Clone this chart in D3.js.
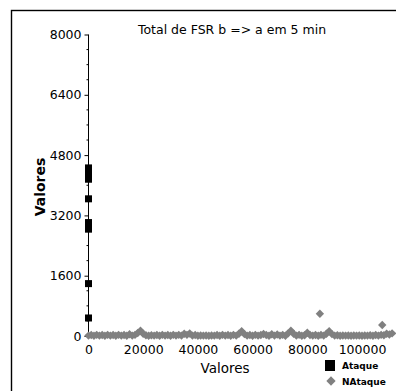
<!DOCTYPE html>
<html>
<head>
<meta charset="utf-8">
<script src="https://cdn.jsdelivr.net/npm/d3@7"></script>
<style>
  html, body { margin: 0; padding: 0; background: #fff; }
  svg { display: block; font-family: "DejaVu Sans", sans-serif; }
</style>
</head>
<body>
<svg id="chart" width="396" height="391"></svg>
<script>
// Series: attack samples (Ataque) and normal samples (NAtaque)
const ataqueX = [0, 0, 0, 0, 0, 0, 0, 0, 0, 0, 0];
const ataqueY = [4460, 4400, 4330, 4250, 4160, 3640, 3010, 2920, 2835, 1390, 478];

const nataqueX = [
  0, 1000, 2000, 3000, 4000, 5000, 6000, 7000, 8000, 9000,
  10000, 11000, 12000, 13000, 14000, 15000, 16000, 17000, 18000, 19000,
  20000, 21000, 22000, 23000, 24000, 25000, 26000, 27000, 28000, 29000,
  30000, 31000, 32000, 33000, 34000, 35000, 36000, 37000, 38000, 39000,
  40000, 41000, 42000, 43000, 44000, 45000, 46000, 47000, 48000, 49000,
  50000, 51000, 52000, 53000, 54000, 55000, 56000, 57000, 58000, 59000,
  60000, 61000, 62000, 63000, 64000, 65000, 66000, 67000, 68000, 69000,
  70000, 71000, 72000, 73000, 74000, 75000, 76000, 77000, 78000, 79000,
  80000, 81000, 82000, 83000, 84000, 85000, 86000, 87000, 88000, 89000,
  90000, 91000, 92000, 93000, 94000, 95000, 96000, 97000, 98000, 99000,
  100000, 101000, 102000, 103000, 104000, 105000, 106000, 107000, 108000, 109000,
  110000, 111000, 84600, 107400
];
const nataqueY = [
  10, 25, 5, 30, 10, 25, 5, 30, 10, 25,
  5, 30, 10, 25, 5, 45, 10, 30, 80, 140,
  60, 20, 5, 20, 10, 25, 5, 30, 10, 25,
  5, 30, 10, 30, 10, 60, 30, 65, 10, 25,
  5, 15, 10, 15, 5, 15, 10, 25, 5, 30,
  10, 25, 5, 30, 10, 60, 125, 50, 10, 25,
  5, 30, 10, 25, 55, 25, 5, 45, 10, 40,
  10, 30, 5, 70, 140, 60, 10, 30, 5, 20,
  85, 25, 10, 25, 5, 30, 10, 60, 125, 50,
  10, 20, 5, 15, 10, 15, 5, 15, 10, 15,
  5, 15, 10, 20, 5, 25, 10, 30, 20, 60,
  40, 70, 590, 290
];

const yTicks = [0, 1600, 3200, 4800, 6400, 8000];
const xTicks = [0, 20000, 40000, 60000, 80000, 100000];
const titleText = "Total de FSR b => a em 5 min";
const axisTitle = "Valores";
const legendNames = ["Ataque", "NAtaque"];

const svg = d3.select("#chart");

const x = d3.scaleLinear().domain([0, 100000]).range([88.5, 362]);
const y = d3.scaleLinear().domain([0, 8000]).range([336, 34.5]);

// outer frame
svg.append("rect")
  .attr("x", 11.5).attr("y", 10.5)
  .attr("width", 420).attr("height", 420)
  .attr("fill", "none").attr("stroke", "#000").attr("stroke-width", 1.4);

// title
svg.append("text")
  .attr("x", 232).attr("y", 34)
  .attr("text-anchor", "middle")
  .attr("font-size", 12.5)
  .text(titleText);

// y axis with major ticks
const yAxis = d3.axisLeft(y).tickValues(yTicks).tickSize(4).tickPadding(3)
  .tickFormat(d3.format("d"));
const gy = svg.append("g").attr("transform", `translate(${x(0)},0)`).call(yAxis);
gy.select(".domain").attr("d", `M0,${y(8000)}V${y(0)}`);
gy.selectAll("text").attr("font-size", 12.5).attr("font-family", "DejaVu Sans");

// minor ticks every 400
const minor = d3.range(400, 8000, 400).filter(v => v % 1600 !== 0);
svg.append("g").selectAll("line").data(minor).join("line")
  .attr("x1", x(0) - 2).attr("x2", x(0))
  .attr("y1", d => y(d)).attr("y2", d => y(d))
  .attr("stroke", "#000");

// x tick labels
const xAxis = d3.axisBottom(x).tickValues(xTicks).tickSize(0).tickPadding(9)
  .tickFormat(d3.format("d"));
const gx = svg.append("g").attr("transform", `translate(0,${y(0)})`).call(xAxis);
gx.select(".domain").remove();
gx.selectAll("text").attr("font-size", 12.5).attr("font-family", "DejaVu Sans");

// axis titles
svg.append("text")
  .attr("x", 225).attr("y", 373)
  .attr("text-anchor", "middle")
  .attr("font-size", 13.5)
  .text(axisTitle);
svg.append("text")
  .attr("transform", "translate(45,187) rotate(-90)")
  .attr("text-anchor", "middle")
  .attr("font-size", 14)
  .attr("font-weight", "bold")
  .text(axisTitle);

// NAtaque diamonds
const diamond = d3.symbol().type(d3.symbolDiamond2).size(45);
const naData = nataqueX.map((v, i) => [v, nataqueY[i]]);
svg.append("g").selectAll("path").data(naData).join("path")
  .attr("d", diamond)
  .attr("transform", d => `translate(${x(d[0])},${y(d[1])})`)
  .attr("fill", "#808080");

// Ataque squares
const aData = ataqueX.map((v, i) => [v, ataqueY[i]]);
svg.append("g").selectAll("rect").data(aData).join("rect")
  .attr("x", d => x(d[0]) - 3.5).attr("y", d => y(d[1]) - 3.5)
  .attr("width", 7).attr("height", 7)
  .attr("fill", "#000");

// legend
const lg = svg.append("g");
lg.append("rect").attr("x", 325).attr("y", 360).attr("width", 10).attr("height", 11).attr("fill", "#000");
lg.append("path")
  .attr("d", d3.symbol().type(d3.symbolDiamond2).size(55))
  .attr("transform", "translate(331,381)")
  .attr("fill", "#808080");
lg.selectAll("text").data(legendNames).join("text")
  .attr("x", 342).attr("y", (d, i) => 368.5 + i * 16)
  .attr("font-size", 9).attr("font-weight", "bold")
  .text(d => d);
</script>
</body>
</html>
